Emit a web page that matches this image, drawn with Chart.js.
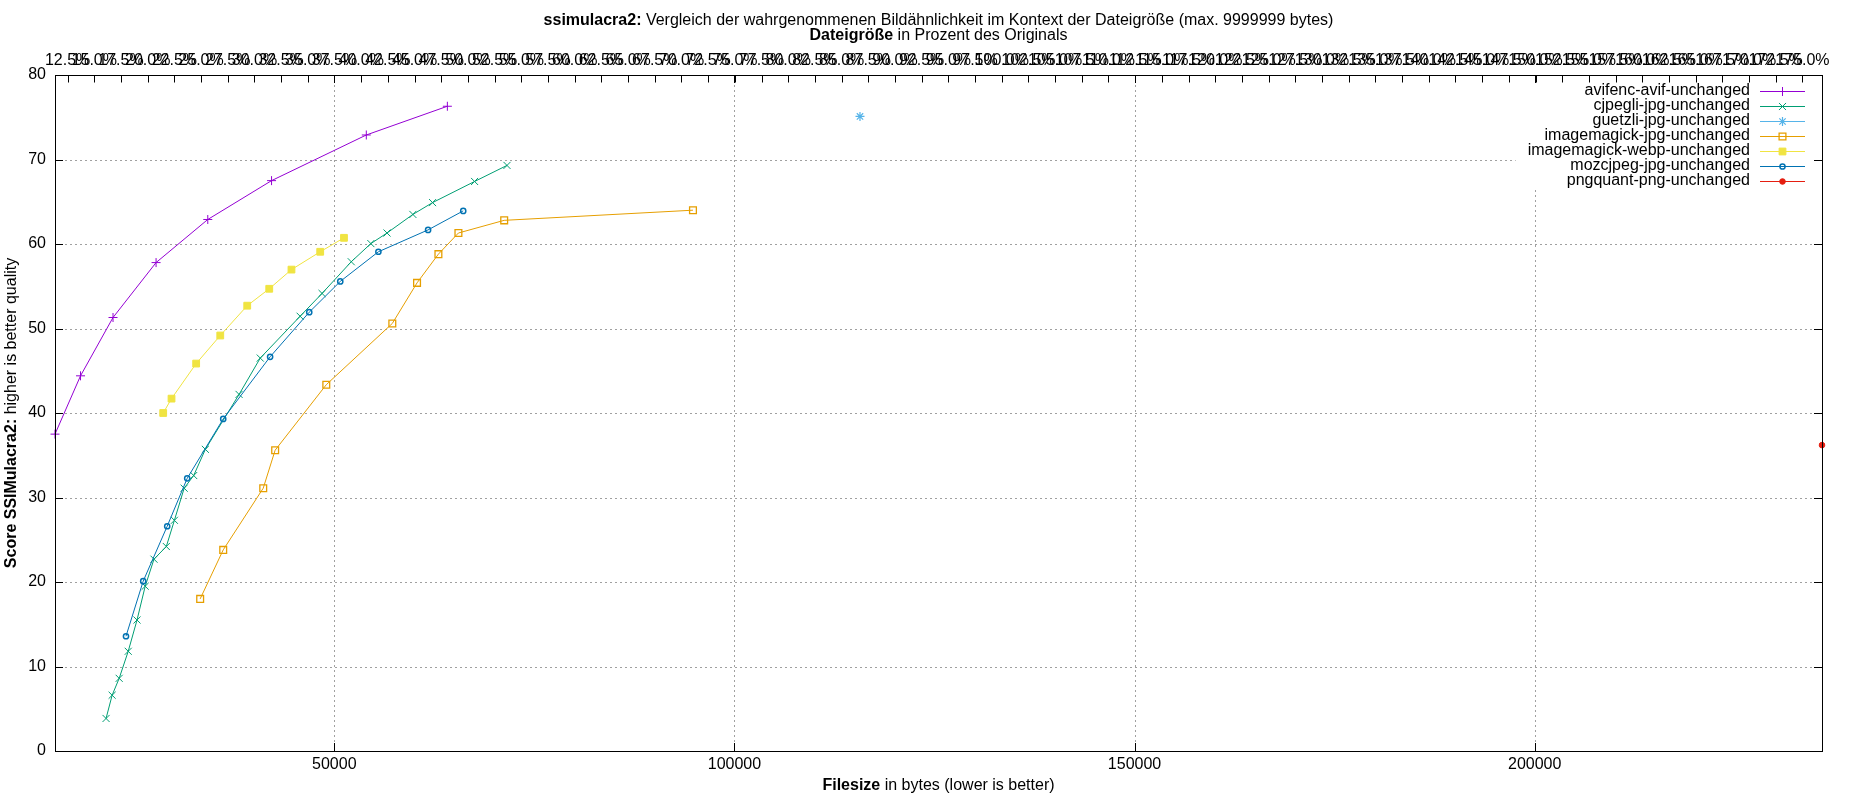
<!DOCTYPE html>
<html>
<head>
<meta charset="utf-8">
<title>ssimulacra2 Vergleich</title>
<script src="https://cdn.jsdelivr.net/npm/chart.js@4.4.1/dist/chart.umd.min.js"></script>
<style>
  html, body { margin: 0; padding: 0; background: #fff; }
  #wrap { width: 1850px; height: 800px; }
</style>
</head>
<body>
<div id="wrap"><canvas id="chart" width="1850" height="800"></canvas></div>
<script>
// Werte (Dateigröße in Bytes / Score)
const seriesNames = [
  'avifenc-avif-unchanged',
  'cjpegli-jpg-unchanged',
  'guetzli-jpg-unchanged',
  'imagemagick-jpg-unchanged',
  'imagemagick-webp-unchanged',
  'mozcjpeg-jpg-unchanged',
  'pngquant-png-unchanged'
];

const avifX = [15100, 18290, 22350, 27730, 34190, 42160, 54000, 64130];
const avifY = [37.5, 44.4, 51.3, 57.8, 62.9, 67.5, 72.9, 76.3];

const cjpegliX = [21480, 22240, 23120, 24250, 25350, 26370, 27470, 29010, 30020, 31240, 32430, 33890,
  38100, 40750, 45730, 48470, 52120, 54570, 56590, 59820, 62280, 67530, 71580];
const cjpegliY = [3.85, 6.6, 8.6, 11.8, 15.5, 19.5, 22.7, 24.2, 27.3, 31.1, 32.6, 35.7,
  42.2, 46.5, 51.45, 54.15, 57.9, 60.05, 61.3, 63.5, 64.9, 67.4, 69.3];

const guetzliX = [115690];
const guetzliY = [75.1];

const imJpgX = [33240, 36120, 41120, 42610, 49000, 57250, 60340, 63010, 65510, 71230, 94820];
const imJpgY = [18.0, 23.8, 31.1, 35.6, 43.35, 50.6, 55.4, 58.8, 61.3, 62.8, 64.0];

const imWebpX = [28620, 29660, 32740, 35750, 39120, 41870, 44650, 48240, 51210];
const imWebpY = [40.0, 41.7, 45.85, 49.17, 52.7, 54.7, 56.97, 59.08, 60.73];

const mozX = [23970, 26120, 29120, 31620, 36120, 41980, 46870, 50745, 55510, 61720, 66110];
const mozY = [13.58, 20.1, 26.6, 32.27, 39.3, 46.65, 51.93, 55.57, 59.08, 61.67, 63.92];

const pngquantX = [235900];
const pngquantY = [36.2];

// Achsen
const X_MIN = 15100;
const X_MAX = 235900;
const ORIGINAL_BYTES = 133400;   // 100 % auf der oberen Achse
const xTicks = [50000, 100000, 150000, 200000];
const yTicks = [0, 10, 20, 30, 40, 50, 60, 70, 80];
const pctStep = 2.5;

const colors = ['#9400d3', '#009e73', '#56b4e9', '#e69f00', '#f0e442', '#0072b2', '#e51e10'];
const FONT = 'Liberation Sans, Arial, sans-serif';

function toPoints(xs, ys) {
  return xs.map((x, i) => ({ x: x, y: ys[i] }));
}

const markers = [
  { pointStyle: 'cross',    pointRadius: 4.5, pointBorderWidth: 1,   filled: false },
  { pointStyle: 'crossRot', pointRadius: 5,   pointBorderWidth: 1,   filled: false },
  { pointStyle: 'star',     pointRadius: 4.5, pointBorderWidth: 1.2, filled: false },
  { pointStyle: 'rect',     pointRadius: 4.8, pointBorderWidth: 1.3, filled: false },
  { pointStyle: 'rect',     pointRadius: 4.8, pointBorderWidth: 1,   filled: true },
  { pointStyle: 'circle',   pointRadius: 2.6, pointBorderWidth: 1.5, filled: false },
  { pointStyle: 'circle',   pointRadius: 2.8, pointBorderWidth: 1,   filled: true }
];

const allPoints = [
  toPoints(avifX, avifY),
  toPoints(cjpegliX, cjpegliY),
  toPoints(guetzliX, guetzliY),
  toPoints(imJpgX, imJpgY),
  toPoints(imWebpX, imWebpY),
  toPoints(mozX, mozY),
  toPoints(pngquantX, pngquantY)
];

const datasets = allPoints.map((pts, i) => ({
  label: seriesNames[i],
  data: pts,
  showLine: true,
  borderColor: colors[i],
  borderWidth: 1,
  backgroundColor: colors[i],
  pointStyle: markers[i].pointStyle,
  pointRadius: markers[i].pointRadius,
  pointHoverRadius: markers[i].pointRadius,
  pointBorderWidth: markers[i].pointBorderWidth,
  pointBorderColor: colors[i],
  pointBackgroundColor: markers[i].filled ? colors[i] : 'rgba(0,0,0,0)',
  tension: 0,
  clip: false,
  order: -i
}));

// Text mit fettem Anfang, z.B. "Filesize in bytes"
function mixedText(ctx, boldPart, rest, cx, cy, size) {
  ctx.save();
  ctx.textBaseline = 'middle';
  ctx.textAlign = 'left';
  ctx.font = 'bold ' + size + 'px ' + FONT;
  const wb = ctx.measureText(boldPart).width;
  ctx.font = size + 'px ' + FONT;
  const wr = ctx.measureText(rest).width;
  let x = cx - (wb + wr) / 2;
  ctx.fillStyle = '#000';
  ctx.font = 'bold ' + size + 'px ' + FONT;
  ctx.fillText(boldPart, x, cy);
  ctx.font = size + 'px ' + FONT;
  ctx.fillText(rest, x + wb, cy);
  ctx.restore();
}

function legendMarker(ctx, i, x, y) {
  const m = markers[i];
  ctx.save();
  ctx.strokeStyle = colors[i];
  ctx.fillStyle = m.filled ? colors[i] : 'rgba(0,0,0,0)';
  ctx.lineWidth = m.pointBorderWidth;
  if (Chart.helpers && Chart.helpers.drawPoint) {
    Chart.helpers.drawPoint(ctx, { pointStyle: m.pointStyle, radius: m.pointRadius, borderWidth: m.pointBorderWidth, rotation: 0 }, x, y);
  }
  ctx.restore();
}

const gnuplotLook = {
  id: 'gnuplotLook',
  beforeDatasetsDraw(chart) {
    const ctx = chart.ctx;
    const a = chart.chartArea;
    const xs = chart.scales.x, ys = chart.scales.y;
    ctx.save();
    ctx.strokeStyle = '#a0a0a0';
    ctx.lineWidth = 1;
    ctx.setLineDash([2, 3]);
    ys.ticks.forEach(t => {
      if (t.value <= yTicks[0] || t.value >= yTicks[yTicks.length - 1]) return;
      const py = Math.round(ys.getPixelForValue(t.value)) + 0.5;
      ctx.beginPath(); ctx.moveTo(a.left, py); ctx.lineTo(a.right, py); ctx.stroke();
    });
    xs.ticks.forEach(t => {
      const px = Math.round(xs.getPixelForValue(t.value)) + 0.5;
      ctx.beginPath(); ctx.moveTo(px, a.top); ctx.lineTo(px, a.bottom); ctx.stroke();
    });
    ctx.setLineDash([]);

    // Legendenhintergrund (deckt das Gitter ab)
    ctx.font = '16px ' + FONT;
    const textRight = a.right - 72;
    let maxW = 0;
    seriesNames.forEach(n => { maxW = Math.max(maxW, ctx.measureText(n).width); });
    ctx.fillStyle = '#fff';
    ctx.fillRect(textRight - maxW - 12, a.top + 1, a.right - 10 - (textRight - maxW - 12), 113);
    ctx.restore();
  },
  afterDatasetsDraw(chart) {
    const ctx = chart.ctx;
    const a = chart.chartArea;
    const xs = chart.scales.x, ys = chart.scales.y, x2 = chart.scales.x2;
    ctx.save();
    ctx.strokeStyle = '#000';
    ctx.lineWidth = 1;
    // Rahmen
    ctx.strokeRect(Math.round(a.left) + 0.5, Math.round(a.top) + 0.5,
      Math.round(a.right - a.left), Math.round(a.bottom - a.top));
    // Ticks nach innen
    ctx.beginPath();
    ys.ticks.forEach(t => {
      const py = Math.round(ys.getPixelForValue(t.value)) + 0.5;
      ctx.moveTo(a.left, py); ctx.lineTo(a.left + 8, py);
      ctx.moveTo(a.right, py); ctx.lineTo(a.right - 8, py);
    });
    xs.ticks.forEach(t => {
      const px = Math.round(xs.getPixelForValue(t.value)) + 0.5;
      ctx.moveTo(px, a.bottom); ctx.lineTo(px, a.bottom - 8);
      ctx.moveTo(px, a.top); ctx.lineTo(px, a.top + 8);
    });
    x2.ticks.forEach(t => {
      const px = Math.round(x2.getPixelForValue(t.value)) + 0.5;
      ctx.moveTo(px, a.top); ctx.lineTo(px, a.top + 7.5);
    });
    ctx.stroke();

    // Legende
    ctx.font = '16px ' + FONT;
    ctx.textAlign = 'right';
    ctx.textBaseline = 'middle';
    ctx.fillStyle = '#000';
    const textRight = a.right - 72;
    seriesNames.forEach((n, i) => {
      const y = a.top + 15.7 + 15 * i;
      ctx.fillText(n, textRight, y);
      ctx.save();
      ctx.strokeStyle = colors[i];
      ctx.lineWidth = 1;
      ctx.beginPath();
      ctx.moveTo(a.right - 62, Math.round(y) + 0.5);
      ctx.lineTo(a.right - 17, Math.round(y) + 0.5);
      ctx.stroke();
      ctx.restore();
      legendMarker(ctx, i, a.right - 39.5, Math.round(y) + 0.5);
    });
    ctx.restore();
  },
  afterDraw(chart) {
    const ctx = chart.ctx;
    const a = chart.chartArea;
    const cx = (a.left + a.right) / 2;
    mixedText(ctx, 'ssimulacra2:', ' Vergleich der wahrgenommenen Bildähnlichkeit im Kontext der Dateigröße (max. 9999999 bytes)', cx, 20.5, 16);
    mixedText(ctx, 'Dateigröße', ' in Prozent des Originals', cx, 35.5, 16);
    mixedText(ctx, 'Filesize', ' in bytes (lower is better)', cx, 786, 16);
    ctx.save();
    ctx.translate(12, (a.top + a.bottom) / 2);
    ctx.rotate(-Math.PI / 2);
    mixedText(ctx, 'Score SSIMulacra2:', ' higher is better quality', 0, 0, 16);
    ctx.restore();
  }
};

const tickFont = { family: FONT, size: 16 };

new Chart(document.getElementById('chart').getContext('2d'), {
  type: 'scatter',
  data: { datasets: datasets },
  options: {
    responsive: false,
    devicePixelRatio: 1,
    animation: false,
    events: [],
    layout: { padding: { left: 0, right: 28, top: 0, bottom: 0 } },
    plugins: { legend: { display: false }, tooltip: { enabled: false }, title: { display: false } },
    scales: {
      x: {
        type: 'linear',
        position: 'bottom',
        min: X_MIN,
        max: X_MAX,
        grid: { display: false, drawTicks: false },
        border: { display: false },
        ticks: {
          autoSkip: false,
          maxRotation: 0,
          padding: 4,
          color: '#000',
          font: tickFont,
          callback: v => String(v)
        },
        afterBuildTicks: s => { s.ticks = xTicks.map(v => ({ value: v })); },
        afterFit: s => { s.height = 49; }
      },
      x2: {
        type: 'linear',
        position: 'top',
        min: X_MIN / ORIGINAL_BYTES * 100,
        max: X_MAX / ORIGINAL_BYTES * 100,
        grid: { display: false, drawTicks: false },
        border: { display: false },
        ticks: {
          stepSize: pctStep,
          includeBounds: false,
          autoSkip: false,
          maxRotation: 0,
          minRotation: 0,
          padding: 5,
          color: '#000',
          font: tickFont,
          callback: v => v.toFixed(1) + '%'
        },
        afterFit: s => { s.height = 75; }
      },
      y: {
        type: 'linear',
        min: yTicks[0],
        max: yTicks[yTicks.length - 1],
        grid: { display: false, drawTicks: false },
        border: { display: false },
        ticks: {
          padding: 9,
          color: '#000',
          font: tickFont
        },
        afterBuildTicks: s => { s.ticks = yTicks.map(v => ({ value: v })); },
        afterFit: s => { s.width = 55; }
      }
    }
  },
  plugins: [gnuplotLook]
});
</script>
</body>
</html>
